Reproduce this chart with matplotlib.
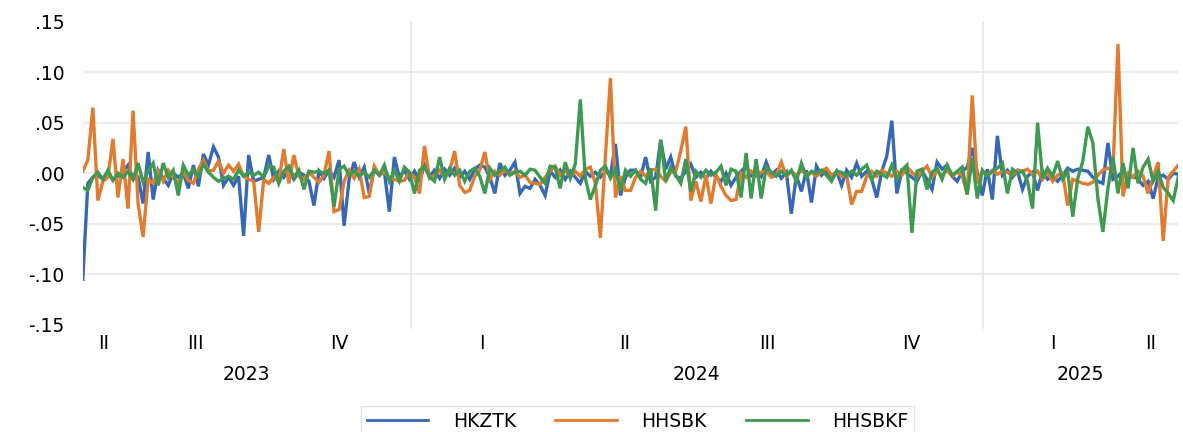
import numpy as np
import pandas as pd
import matplotlib
matplotlib.use('Agg')
from matplotlib import pyplot as plt
import matplotlib.dates as mdates

# daily returns (one value every few trading days)
hkztk = [
    -0.105, -0.010, -0.004, -0.002, -0.006, 0.001, -0.007, -0.003, 0.002, 0.008,
    -0.006, -0.004, -0.030, 0.021, -0.026, 0.003, -0.005, -0.012, 0.000, -0.004,
    0.000, -0.015, 0.008, -0.013, 0.019, 0.008, 0.026, 0.016, -0.012, -0.004,
    -0.012, -0.003, -0.062, 0.018, -0.008, -0.006, -0.004, 0.018, -0.006, 0.002,
    -0.004, 0.003, -0.006, 0.001, -0.002, -0.008, -0.032, 0.002, -0.005, 0.003,
    -0.004, 0.013, -0.052, -0.006, 0.011, -0.004, 0.006, -0.020, 0.004, -0.002,
    0.002, -0.038, 0.016, -0.004, 0.003, -0.006, 0.002, -0.008, 0.008, -0.003,
    0.003, -0.005, 0.004, -0.002, 0.005, -0.004, 0.002, -0.006, 0.004, 0.008,
    0.006, -0.004, -0.020, 0.010, -0.002, 0.003, 0.011, -0.020, -0.013, -0.015,
    -0.006, -0.012, -0.022, 0.002, -0.004, 0.003, -0.006, 0.002, -0.004, -0.010,
    0.002, -0.003, 0.001, -0.004, 0.002, -0.002, 0.029, -0.022, -0.004, 0.003,
    0.003, -0.004, 0.016, -0.008, -0.004, 0.033, 0.004, 0.016, -0.003, -0.005,
    0.002, 0.009, -0.004, 0.001, -0.005, 0.002, -0.004, -0.008, 0.000, -0.012,
    -0.004, 0.002, 0.007, -0.002, 0.004, -0.003, 0.011, -0.002, 0.003, -0.005,
    0.001, -0.040, -0.002, -0.018, 0.003, -0.029, 0.007, -0.002, 0.003, -0.006,
    0.002, -0.012, 0.003, -0.004, 0.010, -0.003, 0.002, -0.006, -0.024, 0.002,
    0.017, 0.052, -0.020, 0.003, 0.000, -0.004, -0.008, 0.002, -0.006, -0.016,
    0.011, 0.004, 0.008, -0.003, -0.008, 0.002, 0.006, 0.025, 0.001, -0.022,
    0.004, -0.026, 0.037, -0.002, 0.003, -0.004, 0.002, -0.016, -0.003, 0.001,
    -0.017, 0.002, -0.006, -0.003, -0.008, -0.002, 0.005, 0.002, 0.004, 0.003,
    0.002, -0.004, -0.008, -0.010, 0.030, -0.006, -0.003, 0.002, -0.005, -0.003,
    -0.006, -0.012, -0.008, -0.025, -0.004, -0.002, -0.006, 0.000, -0.001,
]

hhsbk = [
    0.002, 0.013, 0.065, -0.027, -0.008, -0.004, 0.034, -0.024, 0.014, -0.035,
    0.062, -0.030, -0.063, -0.006, -0.010, 0.002, -0.008, 0.003, -0.004, -0.010,
    0.001, -0.007, -0.010, 0.004, 0.013, 0.002, 0.003, 0.012, 0.000, 0.008,
    0.002, 0.009, -0.003, -0.006, -0.008, -0.058, -0.006, -0.010, -0.004, -0.008,
    0.024, -0.010, 0.018, -0.003, -0.006, 0.001, -0.004, -0.009, -0.002, 0.022,
    -0.038, -0.036, -0.008, 0.003, -0.005, 0.004, -0.024, -0.023, 0.007, -0.002,
    0.001, -0.004, -0.006, -0.008, -0.007, 0.001, -0.004, -0.020, 0.027, -0.005,
    -0.002, 0.003, -0.004, 0.002, 0.022, -0.012, -0.019, -0.017, -0.003, 0.003,
    0.021, -0.006, 0.002, -0.002, 0.003, -0.001, 0.002, -0.004, -0.002, -0.009,
    -0.010, -0.011, -0.004, 0.002, 0.007, -0.002, 0.003, -0.004, 0.002, -0.003,
    0.004, 0.006, -0.010, -0.064, 0.017, 0.094, -0.024, -0.003, -0.017, -0.017,
    -0.004, 0.002, -0.003, 0.003, 0.004, -0.003, -0.008, 0.001, 0.002, 0.022,
    0.046, -0.027, -0.008, -0.028, -0.002, -0.030, -0.001, -0.013, -0.022, -0.027,
    -0.026, 0.000, -0.004, 0.002, -0.003, 0.001, 0.002, -0.004, -0.002, 0.011,
    -0.003, 0.002, -0.002, 0.003, -0.001, 0.001, -0.003, 0.002, 0.005, -0.002,
    0.001, -0.003, -0.002, -0.031, -0.018, -0.018, -0.003, 0.002, -0.003, 0.003,
    0.000, -0.003, 0.002, -0.002, 0.006, 0.001, -0.004, 0.002, 0.007, -0.004,
    0.002, -0.002, 0.003, -0.003, 0.001, -0.002, -0.021, 0.077, -0.010, 0.002,
    -0.002, 0.003, -0.001, 0.002, 0.001, -0.002, 0.003, 0.002, 0.004, -0.001,
    0.002, -0.006, 0.001, -0.008, -0.002, 0.000, -0.032, -0.006, -0.008, -0.010,
    -0.011, -0.009, -0.002, 0.003, 0.005, 0.002, 0.128, -0.023, 0.000, -0.004,
    0.002, -0.003, -0.020, -0.004, 0.011, -0.067, -0.004, 0.002, 0.008,
]

hhsbkf = [
    -0.014, -0.017, -0.004, 0.001, -0.006, 0.003, -0.007, 0.000, -0.004, 0.002,
    -0.006, 0.010, -0.009, 0.002, 0.010, -0.012, 0.010, -0.004, 0.003, -0.022,
    0.008, -0.002, 0.004, -0.003, 0.009, 0.001, -0.004, -0.008, -0.005, -0.003,
    -0.006, 0.003, -0.003, 0.001, -0.002, 0.001, -0.004, 0.007, 0.006, -0.010,
    0.002, 0.007, -0.004, 0.003, -0.016, 0.002, 0.001, 0.002, 0.000, 0.003,
    -0.033, 0.004, 0.007, -0.002, 0.002, -0.003, 0.001, -0.004, 0.003, -0.002,
    0.008, -0.008, 0.003, -0.008, 0.006, 0.001, -0.020, 0.003, 0.007, -0.004,
    -0.008, 0.016, -0.006, 0.005, -0.002, 0.003, -0.008, 0.002, 0.005, -0.003,
    -0.020, 0.005, -0.002, 0.002, 0.006, -0.002, 0.001, 0.002, -0.002, 0.004,
    0.003, -0.004, -0.010, 0.007, 0.006, -0.015, 0.011, -0.005, 0.009, 0.073,
    -0.005, -0.026, -0.012, 0.003, 0.007, -0.005, 0.004, -0.017, 0.003, -0.003,
    0.003, -0.006, -0.010, 0.005, -0.037, 0.033, -0.008, 0.006, -0.002, -0.010,
    0.014, -0.018, 0.002, -0.004, 0.003, -0.002, 0.001, 0.007, -0.012, 0.004,
    0.002, -0.024, 0.020, -0.025, 0.014, -0.025, 0.006, 0.001, -0.003, 0.002,
    -0.002, 0.003, -0.008, 0.010, -0.004, 0.002, 0.000, 0.003, -0.002, -0.008,
    0.002, 0.001, -0.003, 0.002, -0.002, 0.004, 0.008, -0.006, 0.002, -0.001,
    -0.004, 0.008, -0.006, 0.003, 0.008, -0.059, 0.002, 0.004, -0.016, 0.001,
    0.005, -0.006, 0.008, -0.002, 0.002, 0.006, -0.021, 0.015, -0.025, 0.003,
    -0.003, 0.002, 0.005, 0.010, -0.020, 0.004, 0.000, 0.002, -0.008, -0.035,
    0.050, -0.005, 0.005, -0.003, 0.012, -0.006, 0.002, -0.043, -0.005, 0.012,
    0.046, 0.030, -0.025, -0.058, -0.015, 0.016, -0.020, 0.010, -0.015, 0.025,
    -0.010, 0.006, 0.014, -0.008, 0.002, -0.014, -0.020, -0.027, -0.004,
]

series_names = ['HKZTK', 'HHSBK', 'HHSBKF']
colors = ['#3767b5', '#e07b30', '#3f9950']
y_ticks = [-0.15, -0.10, -0.05, 0.00, 0.05, 0.10, 0.15]

fs = 13.5
dates = pd.date_range('2023-06-05', '2025-05-06', periods=len(hkztk))
x0, x1 = mdates.date2num(dates[0]), mdates.date2num(dates[-1])

fig = plt.figure(figsize=(11.83, 4.32), dpi=100)
ax = fig.add_axes([0.070, 0.248, 0.926, 0.702])

for vals, name, c in zip([hkztk, hhsbk, hhsbkf], series_names, colors):
    ax.plot(dates, vals, color=c, lw=2.4, label=name, solid_joinstyle='miter')

ax.set_xlim(dates[0], dates[-1])
ax.set_ylim(-0.15, 0.15)

# horizontal grid
for v in y_ticks[1:-1]:
    ax.axhline(v, color='#e8e8e8', lw=1.2, zorder=0)

# year boundaries
for yr in [2024, 2025]:
    ax.axvline(pd.Timestamp(f'{yr}-01-01'), ymin=-0.01, ymax=1, color='#e6e6e6',
               lw=1.2, zorder=0, clip_on=False)

for s in ax.spines.values():
    s.set_visible(False)

ax.set_yticks(y_ticks)
ylabels = []
for v in y_ticks:
    s = f'{abs(v):.2f}'[1:]
    ylabels.append('-' + s if v < 0 else s)
ax.set_yticklabels(ylabels, fontsize=fs)
ax.tick_params(axis='y', length=0, pad=13)
ax.set_xticks([])

# quarter labels, centred on the visible part of each quarter
roman = ['I', 'II', 'III', 'IV']
xt = ax.get_xaxis_transform()
for q in pd.period_range('2023Q2', '2025Q2', freq='Q'):
    a = max(mdates.date2num(q.start_time), x0)
    b = min(mdates.date2num(q.end_time), x1)
    ax.text((a + b) / 2, -0.063, roman[q.quarter - 1], transform=xt,
            ha='center', va='center', fontsize=fs)

for yr in [2023, 2024, 2025]:
    a = max(mdates.date2num(pd.Timestamp(f'{yr}-01-01')), x0)
    b = min(mdates.date2num(pd.Timestamp(f'{yr}-12-31')), x1)
    ax.text((a + b) / 2, -0.165, str(yr), transform=xt,
            ha='center', va='center', fontsize=fs)

leg = fig.legend(loc='upper center', bbox_to_anchor=(0.539, 1 - 406 / 432), ncol=3,
                 fontsize=fs, frameon=True, fancybox=False, borderaxespad=0,
                 handlelength=3.3, handletextpad=1.3, columnspacing=2.1,
                 borderpad=0.3)
leg.get_frame().set_edgecolor('#dddddd')
leg.get_frame().set_linewidth(1.0)
for line in leg.get_lines():
    line.set_linewidth(2.0)

fig.savefig('out.png', dpi=100)
